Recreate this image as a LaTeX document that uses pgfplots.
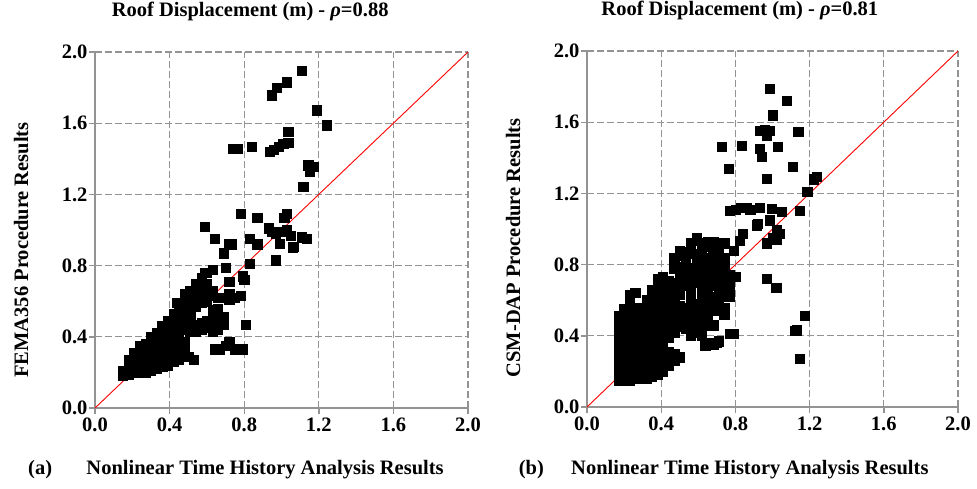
\documentclass[border=0pt]{standalone}
\usepackage{fontspec}
\setmainfont{Liberation Serif}
\usepackage{pgfplots}
\pgfplotsset{compat=1.18}

\newcommand{\lblfont}{\bfseries\fontsize{20.5}{23}\selectfont}

\pgfplotsset{
  dispax/.style={
    scale only axis,
    height=356pt,
    xmin=0, xmax=2, ymin=0, ymax=2,
    xtick={0,0.4,0.8,1.2,1.6,2},
    ytick={0,0.4,0.8,1.2,1.6,2},
    xticklabels={0.0,0.4,0.8,1.2,1.6,2.0},
    yticklabels={0.0,0.4,0.8,1.2,1.6,2.0},
    /pgf/number format/assume math mode=true,
    ticklabel style={font=\lblfont},
    yticklabel style={xshift=2pt},
    axis x line*=bottom, axis y line*=left,
    axis line style={draw=gray!85, line width=1.4pt, -},
    tick style={draw=gray!85, line width=1.4pt},
    tick align=outside, major tick length=6pt,
    grid=major,
    major grid style={gray!85, line width=1.3pt, dash pattern=on 7pt off 3pt},
    label style={font=\lblfont},
    title style={font=\lblfont, anchor=center},
    clip=false,
  },
  pts/.style={only marks, mark=square*, mark size=4.6pt,
    mark options={fill=black, draw=black, rounded corners=1.5pt}},
  diag/.style={red, line width=0.9pt},
}

\begin{document}
\begin{tikzpicture}
\useasboundingbox (0,0) rectangle (977pt,-488pt);

% (a) FEMA356
\begin{axis}[dispax, width=373pt,
    at={(95pt,-408pt)}, anchor=south west,
    title={Roof Displacement (m) - \textit{ρ}=0.88},
    title style={at={(axis description cs:0.416,1.098)}},
    xlabel={Nonlinear Time History Analysis Results},
    xlabel style={at={(axis description cs:0.456,-0.174)}, anchor=center},
    ylabel={FEMA356 Procedure Results},
    ylabel style={at={(axis description cs:-0.198,0.444)}, anchor=center},
]
\addplot[pts] coordinates {
 (0.15,0.18) (0.15,0.21)
 (0.18,0.19) (0.18,0.23) (0.18,0.27)
 (0.21,0.20) (0.21,0.24) (0.21,0.28) (0.21,0.31)
 (0.24,0.20) (0.24,0.24) (0.24,0.28) (0.24,0.32) (0.24,0.35)
 (0.27,0.20) (0.27,0.24) (0.27,0.28) (0.27,0.32) (0.27,0.36)
 (0.30,0.21) (0.30,0.25) (0.30,0.29) (0.30,0.33) (0.30,0.37) (0.30,0.40)
 (0.33,0.22) (0.33,0.26) (0.33,0.30) (0.33,0.34) (0.33,0.38) (0.33,0.42)
 (0.36,0.23) (0.36,0.27) (0.36,0.31) (0.36,0.35) (0.36,0.39) (0.36,0.43) (0.36,0.46)
 (0.39,0.24) (0.39,0.28) (0.39,0.32) (0.39,0.36) (0.39,0.40) (0.39,0.44) (0.39,0.49)
 (0.42,0.26) (0.42,0.30) (0.42,0.34) (0.42,0.38) (0.42,0.42) (0.42,0.46) (0.42,0.50) (0.42,0.53)
 (0.45,0.27) (0.45,0.32) (0.45,0.36) (0.45,0.40) (0.45,0.44) (0.45,0.48) (0.45,0.52) (0.45,0.57)
 (0.48,0.29) (0.48,0.33) (0.48,0.37) (0.48,0.44) (0.48,0.48) (0.48,0.52) (0.48,0.56) (0.48,0.60) (0.48,0.64)
 (0.50,0.29) (0.53,0.27)
 (0.51,0.43) (0.51,0.47) (0.51,0.51) (0.51,0.55) (0.51,0.59) (0.51,0.64)
 (0.54,0.43) (0.54,0.47) (0.54,0.57) (0.54,0.61) (0.54,0.66) (0.54,0.70)
 (0.57,0.44) (0.57,0.48) (0.57,0.59) (0.57,0.63) (0.57,0.68) (0.57,0.73)
 (0.60,0.45) (0.60,0.49) (0.60,0.60) (0.60,0.64) (0.60,0.70) (0.60,0.76)
 (0.63,0.43) (0.63,0.47) (0.63,0.51) (0.63,0.55) (0.63,0.63) (0.63,0.66)
 (0.66,0.44) (0.66,0.48) (0.66,0.52) (0.66,0.56) (0.66,0.62)
 (0.69,0.47) (0.69,0.51) (0.69,0.62)
 (0.72,0.61) (0.72,0.64) (0.75,0.62) (0.78,0.63)
 (0.64,0.33) (0.67,0.33) (0.70,0.35) (0.72,0.37) (0.75,0.33) (0.79,0.33) (0.81,0.47)
 (0.44,0.59) (0.51,0.66) (0.545,0.70) (0.59,0.76) (0.63,0.775)
 (0.59,1.02) (0.64,0.95) (0.69,0.87) (0.70,0.79) (0.72,0.71) (0.73,0.92)
 (0.72,0.92) (0.79,0.74) (0.80,0.72) (0.83,0.81) (0.83,0.95) (0.87,0.92) (0.87,1.07)
 (0.78,1.09) (0.93,1.01) (0.97,0.98) (1.00,0.99) (1.03,1.00) (0.99,0.925)
 (1.05,0.97) (1.06,0.90) (0.97,0.83) (1.11,0.96) (1.135,0.953) (1.063,0.907)
 (1.03,1.09) (1.015,1.07) (0.95,0.99)
 (1.107,1.897) (1.027,1.83) (0.973,1.80) (0.946,1.757) (1.187,1.673) (1.241,1.589)
 (1.036,1.551) (1.009,1.486) (1.036,1.49) (0.9375,1.439) (0.96,1.45)
 (0.741,1.458) (0.765,1.455) (0.839,1.467) (0.985,1.47)
 (1.143,1.364) (1.17,1.355) (1.152,1.327) (1.116,1.243)
};
\addplot[diag] coordinates {(0,0) (2,2)};
\node[font=\lblfont] at (axis description cs:-0.147,-0.174) {(a)};
\end{axis}

% (b) CSM-DAP
\begin{axis}[dispax, width=371pt,
    at={(587pt,-407pt)}, anchor=south west,
    title={Roof Displacement (m) - \textit{ρ}=0.81},
    title style={at={(axis description cs:0.412,1.096)}},
    xlabel={Nonlinear Time History Analysis Results},
    xlabel style={at={(axis description cs:0.439,-0.177)}, anchor=center},
    ylabel={CSM-DAP Procedure Results},
    ylabel style={at={(axis description cs:-0.199,0.447)}, anchor=center},
]
\addplot[pts] coordinates {
 (0.17,0.15) (0.17,0.19) (0.17,0.23) (0.17,0.27) (0.17,0.31) (0.17,0.35) (0.17,0.39) (0.17,0.43) (0.17,0.47) (0.17,0.51)
 (0.20,0.15) (0.20,0.19) (0.20,0.23) (0.20,0.27) (0.20,0.31) (0.20,0.35) (0.20,0.39) (0.20,0.43) (0.20,0.47) (0.20,0.51) (0.20,0.55)
 (0.23,0.15) (0.23,0.19) (0.23,0.23) (0.23,0.27) (0.23,0.31) (0.23,0.35) (0.23,0.39) (0.23,0.43) (0.23,0.47) (0.23,0.51) (0.23,0.55) (0.23,0.59) (0.23,0.63)
 (0.26,0.16) (0.26,0.20) (0.26,0.24) (0.26,0.28) (0.26,0.32) (0.26,0.36) (0.26,0.40) (0.26,0.44) (0.26,0.48) (0.26,0.52) (0.26,0.56) (0.26,0.64)
 (0.29,0.16) (0.29,0.20) (0.29,0.24) (0.29,0.28) (0.29,0.32) (0.29,0.36) (0.29,0.40) (0.29,0.44) (0.29,0.48) (0.29,0.52) (0.29,0.56)
 (0.32,0.16) (0.32,0.20) (0.32,0.24) (0.32,0.28) (0.32,0.32) (0.32,0.36) (0.32,0.40) (0.32,0.44) (0.32,0.48) (0.32,0.52) (0.32,0.56) (0.32,0.60)
 (0.35,0.17) (0.35,0.21) (0.35,0.25) (0.35,0.29) (0.35,0.33) (0.35,0.37) (0.35,0.41) (0.35,0.45) (0.35,0.49) (0.35,0.53) (0.35,0.57) (0.35,0.61) (0.35,0.66)
 (0.38,0.18) (0.38,0.22) (0.38,0.26) (0.38,0.30) (0.38,0.34) (0.38,0.38) (0.38,0.42) (0.38,0.46) (0.38,0.50) (0.38,0.54) (0.38,0.58) (0.38,0.62) (0.38,0.67) (0.38,0.72)
 (0.41,0.20) (0.41,0.24) (0.41,0.28) (0.41,0.32) (0.41,0.36) (0.41,0.40) (0.41,0.44) (0.41,0.48) (0.41,0.52) (0.41,0.56) (0.41,0.60) (0.41,0.64) (0.41,0.68) (0.41,0.73)
 (0.44,0.23) (0.44,0.27) (0.44,0.31) (0.44,0.39) (0.44,0.43) (0.44,0.47) (0.44,0.51) (0.44,0.55) (0.44,0.59) (0.44,0.63) (0.44,0.67) (0.44,0.71)
 (0.47,0.26) (0.47,0.30) (0.47,0.42) (0.47,0.46) (0.47,0.50) (0.47,0.54) (0.47,0.58) (0.47,0.62) (0.47,0.66) (0.47,0.70) (0.47,0.78) (0.47,0.84)
 (0.50,0.28) (0.50,0.45) (0.50,0.49) (0.50,0.53) (0.50,0.57) (0.50,0.63) (0.50,0.67) (0.50,0.71) (0.50,0.75) (0.50,0.79) (0.50,0.85) (0.50,0.88)
 (0.53,0.44) (0.53,0.48) (0.53,0.52) (0.53,0.56) (0.53,0.68) (0.53,0.72) (0.53,0.76) (0.53,0.80) (0.53,0.84)
 (0.56,0.40) (0.56,0.46) (0.56,0.50) (0.56,0.54) (0.56,0.58) (0.56,0.62) (0.56,0.66) (0.56,0.70) (0.56,0.74) (0.56,0.78) (0.56,0.86) (0.56,0.92)
 (0.59,0.42) (0.59,0.46) (0.59,0.50) (0.59,0.54) (0.59,0.58) (0.59,0.70) (0.59,0.74) (0.59,0.78) (0.59,0.82) (0.59,0.86) (0.59,0.95)
 (0.62,0.40) (0.62,0.44) (0.62,0.48) (0.62,0.52) (0.62,0.56) (0.62,0.60) (0.62,0.66) (0.62,0.70) (0.62,0.74) (0.62,0.78) (0.62,0.82) (0.62,0.86) (0.62,0.92)
 (0.65,0.36) (0.65,0.46) (0.65,0.50) (0.65,0.54) (0.65,0.58) (0.65,0.62) (0.65,0.66) (0.65,0.70) (0.65,0.74) (0.65,0.78) (0.65,0.84) (0.65,0.90) (0.65,0.93)
 (0.68,0.35) (0.68,0.46) (0.68,0.54) (0.68,0.58) (0.68,0.62) (0.68,0.68) (0.68,0.72) (0.68,0.76) (0.68,0.80) (0.68,0.84) (0.68,0.88) (0.68,0.93)
 (0.71,0.37) (0.71,0.56) (0.71,0.60) (0.71,0.64) (0.71,0.68) (0.71,0.72) (0.71,0.78) (0.71,0.82) (0.71,0.86) (0.71,0.92)
 (0.74,0.52) (0.74,0.56) (0.74,0.62) (0.74,0.66) (0.74,0.70) (0.74,0.74) (0.74,0.80) (0.74,0.84) (0.74,0.92)
 (0.77,0.41) (0.77,0.62) (0.77,0.66) (0.77,0.70) (0.77,0.74) (0.80,0.73)
 (0.789,0.88) (0.825,0.936) (0.79,0.41) (0.70,0.36) (0.64,0.35)
 (0.983,1.788) (1.076,1.723) (1.001,1.639) (0.933,1.554) (0.96,1.56) (0.987,1.554)
 (0.969,1.526) (1.139,1.545) (0.726,1.461) (0.834,1.470) (0.933,1.451) (0.942,1.404)
 (1.026,1.464) (1.109,1.348) (0.762,1.339) (0.969,1.283) (1.238,1.292) (1.22,1.28)
 (1.187,1.208) (1.148,1.105)
 (0.77,1.105) (0.80,1.11) (0.83,1.12) (0.86,1.12) (0.88,1.11) (0.93,1.12) (0.996,1.114)
 (1.049,1.096) (0.987,1.049) (0.915,1.021) (0.84,0.975) (0.92,1.03) (1.022,0.993)
 (1.04,0.975) (0.97,0.92) (1.00,0.95) (1.02,0.94) (0.592,0.936) (0.502,0.871)
 (0.97,0.72) (1.02,0.67) (1.175,0.515) (1.130,0.431) (1.12,0.43) (1.148,0.272)
 (0.78,0.41) (0.637,0.346) (0.70,0.36)
};
\addplot[diag] coordinates {(0,0) (2,2)};
\node[font=\lblfont] at (axis description cs:-0.150,-0.177) {(b)};
\end{axis}
\end{tikzpicture}
\end{document}
